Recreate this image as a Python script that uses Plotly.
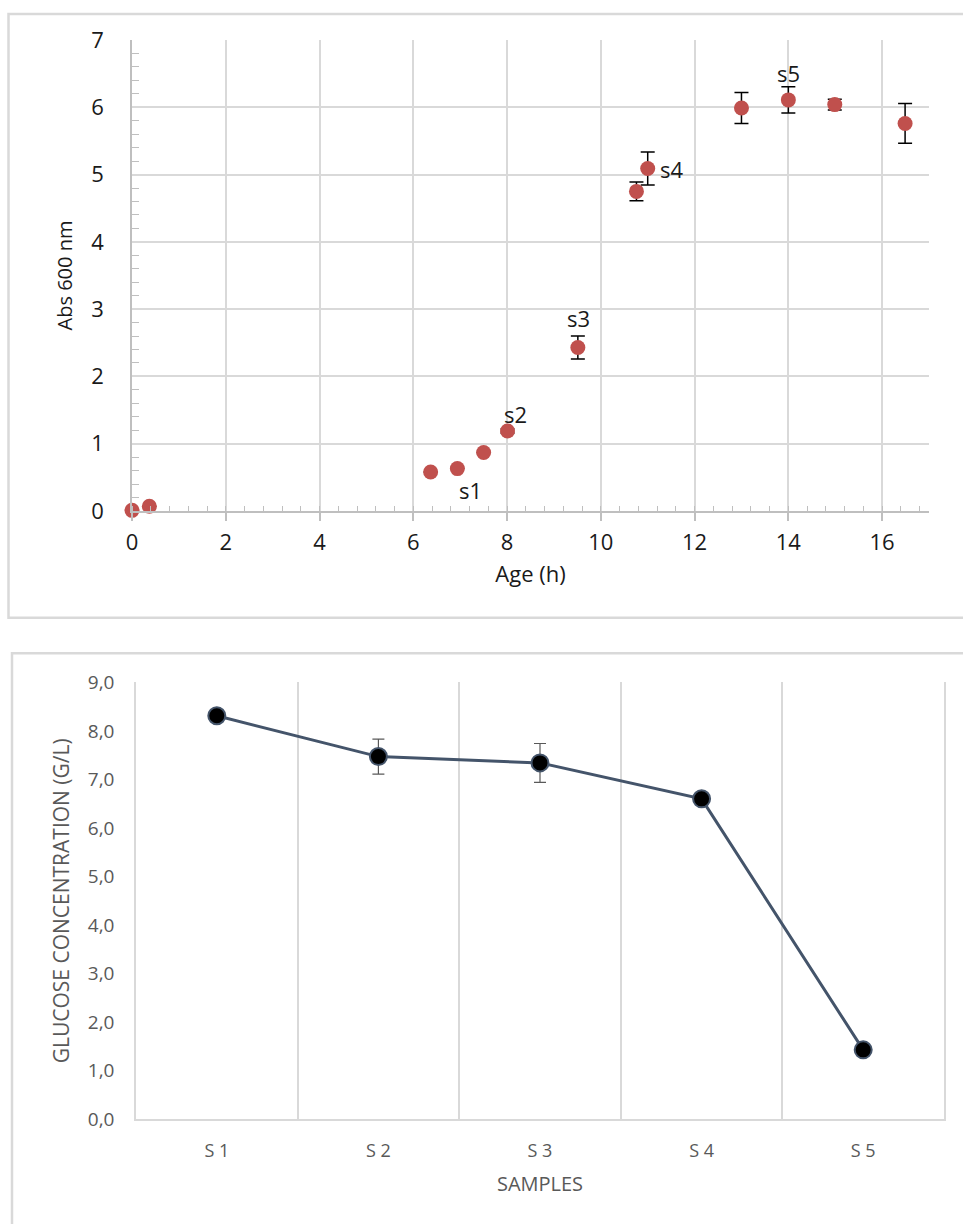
import plotly.graph_objects as go

# Growth curve: optical density vs culture age
age_h = [0, 0.37, 6.37, 6.94, 7.5, 8.01, 9.51, 10.76, 11.0, 13.0, 14.0, 14.99, 16.49]
abs_600 = [0.01, 0.07, 0.58, 0.63, 0.87, 1.19, 2.43, 4.75, 5.09, 5.99, 6.11, 6.04, 5.76]
abs_err = [0, 0, 0, 0, 0, 0.03, 0.17, 0.14, 0.245, 0.23, 0.195, 0.08, 0.295]

# Sampling points marked on the growth curve
sample_tags = ["s1", "s2", "s3", "s4", "s5"]
tag_x = [7.21, 8.19, 9.53, 11.5, 14.0]
tag_y = [0.31, 1.44, 2.87, 5.09, 6.51]

# Residual glucose per sample
samples = ["S 1", "S 2", "S 3", "S 4", "S 5"]
glucose = [8.31, 7.47, 7.34, 6.60, 1.43]
glucose_err = [0, 0.36, 0.40, 0, 0]

W, H = 963, 1224
FONT = "Open Sans"
GRID = "#D9D9D9"
AXIS = "#BFBFBF"


def px_x(p):
    return p / W


def px_y(p):
    return (H - p) / H


fig = go.Figure()

fig.add_trace(go.Scatter(
    x=age_h, y=abs_600, mode="markers",
    marker=dict(color="#C0504D", size=15, line=dict(width=0)),
    error_y=dict(type="data", array=abs_err, visible=True,
                 color="black", thickness=1.5, width=7),
    cliponaxis=False, showlegend=False,
    xaxis="x", yaxis="y",
))

fig.add_trace(go.Scatter(
    x=samples, y=glucose, mode="lines+markers",
    line=dict(color="#44546A", width=3),
    marker=dict(color="black", size=17, line=dict(color="#44546A", width=2)),
    error_y=dict(type="data", array=glucose_err, visible=True,
                 color="#595959", thickness=1.2, width=6),
    cliponaxis=False, showlegend=False,
    xaxis="x2", yaxis="y2",
))

annotations = [
    dict(x=tx, y=ty, xref="x", yref="y", text=t, showarrow=False,
         font=dict(family=FONT, size=22, color="#1a1a1a"),
         xanchor="center", yanchor="middle")
    for t, tx, ty in zip(sample_tags, tag_x, tag_y)
]

shapes = [
    # chart frames
    dict(type="rect", xref="paper", yref="paper",
         x0=px_x(8.5), x1=px_x(975), y0=px_y(617.7), y1=px_y(14),
         line=dict(color=GRID, width=2.5), fillcolor="rgba(0,0,0,0)", layer="below"),
    dict(type="rect", xref="paper", yref="paper",
         x0=px_x(12), x1=px_x(975), y0=px_y(1240), y1=px_y(653.3),
         line=dict(color=GRID, width=2.5), fillcolor="rgba(0,0,0,0)", layer="below"),
]

fig.update_layout(
    width=W, height=H,
    margin=dict(l=0, r=0, t=0, b=0, autoexpand=False),
    paper_bgcolor="white", plot_bgcolor="white",
    separators=",.",
    font=dict(family=FONT),
    annotations=annotations,
    shapes=shapes,
    xaxis=dict(
        domain=[px_x(132), px_x(929)], anchor="y", automargin=False,
        range=[0, 17], tickmode="linear", tick0=0, dtick=2,
        showgrid=True, gridcolor=GRID, gridwidth=1.5,
        showline=True, linecolor=AXIS, linewidth=1.5,
        ticks="outside", ticklen=8, tickcolor=AXIS, tickwidth=1.5,
        minor=dict(tick0=0, dtick=0.4, ticks="inside", ticklen=5,
                   tickcolor=AXIS, tickwidth=1.2, showgrid=False),
        zeroline=False,
        tickfont=dict(family=FONT, size=22, color="#1a1a1a"),
        ticklabelstandoff=3,
        title=dict(text="Age (h)", font=dict(family=FONT, size=22, color="#1a1a1a"),
                   standoff=11),
    ),
    yaxis=dict(
        domain=[px_y(511), px_y(40)], anchor="x", automargin=False,
        range=[0, 7], tickmode="linear", tick0=0, dtick=1,
        showgrid=True, gridcolor=GRID, gridwidth=1.5,
        showline=True, linecolor=AXIS, linewidth=1.5,
        ticks="",
        minor=dict(tick0=0, dtick=0.2, ticks="inside", ticklen=7,
                   tickcolor=AXIS, tickwidth=1.2, showgrid=False),
        zeroline=False,
        tickfont=dict(family=FONT, size=22, color="#1a1a1a"),
        ticklabelstandoff=22,
        title=dict(text="Abs 600 nm", font=dict(family=FONT, size=20, color="#1a1a1a"),
                   standoff=13),
    ),
    xaxis2=dict(
        domain=[px_x(136), px_x(944)], anchor="y2", automargin=False,
        type="category", range=[-0.5, 4.5],
        tickson="boundaries", ticks="",
        showgrid=True, gridcolor=GRID, gridwidth=1.5,
        showline=True, linecolor=GRID, linewidth=1.5,
        tickfont=dict(family=FONT, size=18, color="#595959"),
        ticklabelstandoff=14,
        title=dict(text="SAMPLES", font=dict(family=FONT, size=20, color="#595959"),
                   standoff=16),
    ),
    yaxis2=dict(
        domain=[px_y(1119.3), px_y(682.3)], anchor="x2", automargin=False,
        range=[0, 9], tickmode="linear", tick0=0, dtick=1,
        tickformat=".1f",
        showgrid=False, zeroline=False,
        showline=True, mirror=True, linecolor=GRID, linewidth=1.5,
        ticks="",
        tickfont=dict(family=FONT, size=19, color="#595959"),
        ticklabelstandoff=16,
        title=dict(text="GLUCOSE CONCENTRATION (G/L)",
                   font=dict(family=FONT, size=21, color="#595959"),
                   standoff=12),
    ),
)

fig.write_html("out.html")
